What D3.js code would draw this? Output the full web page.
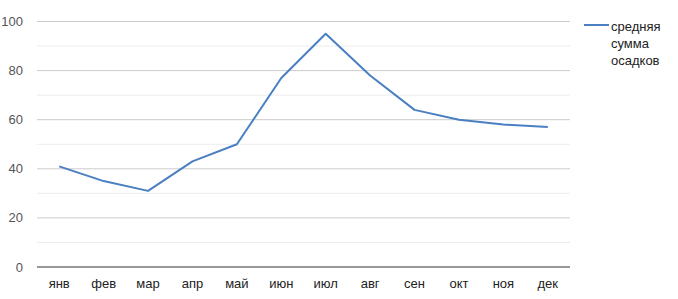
<!DOCTYPE html>
<html>
<head>
<meta charset="utf-8">
<script src="https://cdn.jsdelivr.net/npm/d3@7"></script>
<style>
  body { margin: 0; background: #fff; }
  text { font-family: "Liberation Sans", Arial, sans-serif; }
</style>
</head>
<body>
<div id="chart"></div>
<script>
// months and average precipitation
const months = ["янв", "фев", "мар", "апр", "май", "июн", "июл", "авг", "сен", "окт", "ноя", "дек"];
const precipitation = [41, 35, 31, 43, 50, 77, 95, 78, 64, 60, 58, 57];
const yTicks = [0, 20, 40, 60, 80, 100];
const yMinor = [10, 30, 50, 70, 90];
const legendLines = ["средняя", "сумма", "осадков"];

const W = 678, H = 299;
const plotLeft = 37, plotRight = 570, plotTop = 21.5, plotBottom = 267;

const svg = d3.select("#chart").append("svg")
    .attr("width", W)
    .attr("height", H);

let x = d3.scalePoint()
    .domain(months)
    .range([plotLeft, plotRight])
    .padding(0.5);

let y = d3.scaleLinear()
    .domain([0, 100])
    .range([plotBottom, plotTop]);

// minor gridlines
svg.selectAll(".minor")
    .data(yMinor)
    .enter().append("line")
    .attr("x1", plotLeft).attr("x2", plotRight)
    .attr("y1", d => y(d)).attr("y2", d => y(d))
    .attr("stroke", "#ececec")
    .attr("stroke-width", 1);

// major gridlines
svg.selectAll(".major")
    .data(yTicks.filter(d => d > 0))
    .enter().append("line")
    .attr("x1", plotLeft).attr("x2", plotRight)
    .attr("y1", d => y(d)).attr("y2", d => y(d))
    .attr("stroke", "#cccccc")
    .attr("stroke-width", 1);

// y labels
svg.selectAll(".ylab")
    .data(yTicks)
    .enter().append("text")
    .attr("x", 23)
    .attr("y", d => y(d) + 4.5)
    .attr("text-anchor", "end")
    .attr("font-size", 13)
    .attr("fill", "#555")
    .text(d => d);

// baseline
svg.append("line")
    .attr("x1", plotLeft).attr("x2", plotRight)
    .attr("y1", y(0)).attr("y2", y(0))
    .attr("stroke", "#333")
    .attr("stroke-width", 1.2);

// x labels
svg.selectAll(".xlab")
    .data(months)
    .enter().append("text")
    .attr("x", d => x(d))
    .attr("y", 288)
    .attr("text-anchor", "middle")
    .attr("font-size", 13)
    .attr("fill", "#222")
    .text(d => d);

// the line
let line = d3.line()
    .x((d, i) => x(months[i]))
    .y(d => y(d));

svg.append("path")
    .datum(precipitation)
    .attr("d", line)
    .attr("fill", "none")
    .attr("stroke", "#4a7fc1")
    .attr("stroke-width", 2)
    .attr("stroke-linejoin", "round");

// legend
svg.append("line")
    .attr("x1", 584).attr("x2", 609)
    .attr("y1", 25).attr("y2", 25)
    .attr("stroke", "#4a7fc1")
    .attr("stroke-width", 2);

svg.selectAll(".leg")
    .data(legendLines)
    .enter().append("text")
    .attr("x", 611)
    .attr("y", (d, i) => 30.5 + i * 17.3)
    .attr("font-size", 13)
    .attr("fill", "#222")
    .text(d => d);
</script>
</body>
</html>
